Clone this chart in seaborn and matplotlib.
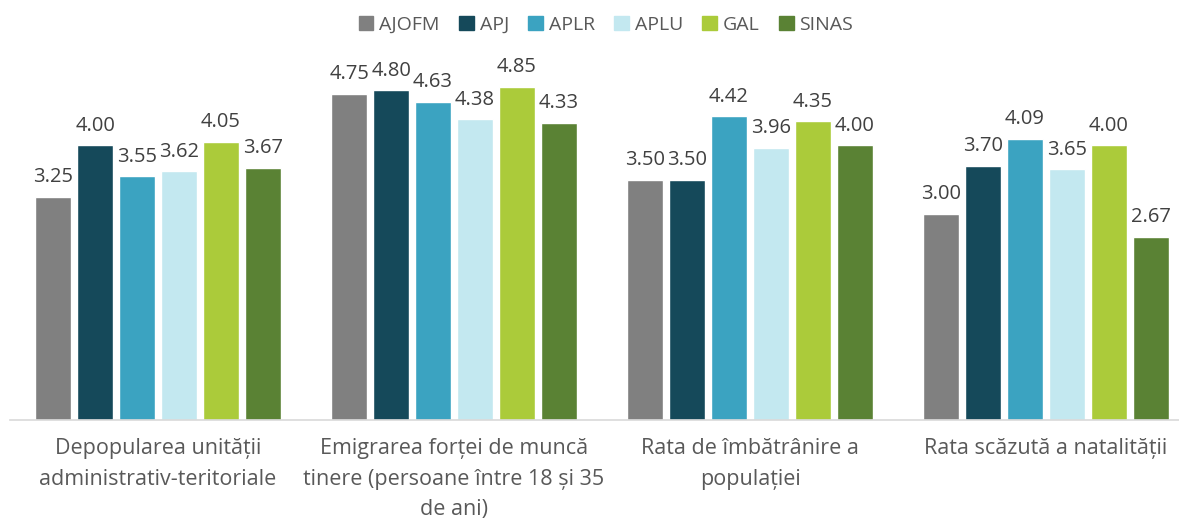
import pandas as pd
import matplotlib.pyplot as plt
import seaborn as sns

categories = [
    "Depopularea unității\nadministrativ-teritoriale",
    "Emigrarea forței de muncă\ntinere (persoane între 18 și 35\nde ani)",
    "Rata de îmbătrânire a\npopulației",
    "Rata scăzută a natalității",
]
series = ["AJOFM", "APJ", "APLR", "APLU", "GAL", "SINAS"]
ajofm = [3.25, 4.75, 3.50, 3.00]
apj = [4.00, 4.80, 3.50, 3.70]
aplr = [3.55, 4.63, 4.42, 4.09]
aplu = [3.62, 4.38, 3.96, 3.65]
gal = [4.05, 4.85, 4.35, 4.00]
sinas = [3.67, 4.33, 4.00, 2.67]

colors = ["#808080", "#15495A", "#3BA3C1", "#C3E8F0", "#ABCB3A", "#5A8234"]

values = [ajofm, apj, aplr, aplu, gal, sinas]
rows = []
for s, vals in zip(series, values):
    for c, v in zip(categories, vals):
        rows.append({"cat": c, "series": s, "value": v})
df = pd.DataFrame(rows)

sns.set_theme(style="white")
plt.rcParams["font.family"] = ["Open Sans", "DejaVu Sans"]

W, H = 1179, 521
fig = plt.figure(figsize=(W / 100, H / 100), dpi=100)
# plot area: x from 10 to 1194 px, baseline at y=420, top at ~8
ax = fig.add_axes([10 / W, (H - 420) / H, 1184 / W, 412 / H])

sns.barplot(data=df, x="cat", y="value", hue="series", palette=colors,
            saturation=1, width=0.85, gap=0.15, ax=ax, legend=True)

for cont in ax.containers:
    ax.bar_label(cont, fmt="%.2f", padding=7, fontsize=14.5, color="#404040")

ax.set_ylim(0, 6)
ax.set_xlim(-0.5, 3.5)
ax.set_xlabel("")
ax.set_ylabel("")
ax.set_yticks([])
for side in ["left", "right", "top"]:
    ax.spines[side].set_visible(False)
ax.spines["bottom"].set_color("#d9d9d9")
ax.spines["bottom"].set_linewidth(1.2)
ax.tick_params(axis="x", length=0, pad=13, labelsize=15.5, labelcolor="#595959")
for lab in ax.get_xticklabels():
    lab.set_linespacing(1.6)

ax.get_legend().remove()
handles = [plt.Rectangle((0, 0), 1, 1, color=c) for c in colors]
fig.legend(handles, series, loc="center", bbox_to_anchor=(606 / W, 1 - 25 / H),
           ncol=6, frameon=False, fontsize=14, handlelength=0.75, handleheight=0.75,
           handletextpad=0.3, columnspacing=1.0, labelcolor="#595959")

fig.savefig("out.png", dpi=100)
